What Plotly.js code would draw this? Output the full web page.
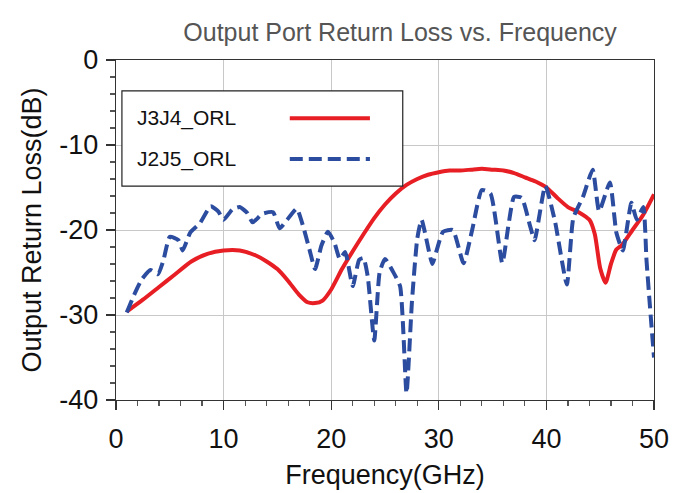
<!DOCTYPE html>
<html>
<head>
<meta charset="utf-8">
<script src="https://cdn.plot.ly/plotly-3.0.1.min.js"></script>
<style>html,body{margin:0;padding:0;background:#fff;}#chart{width:684px;height:493px;}</style>
</head>
<body>
<div id="chart"></div>
<script>
// Data
const seriesNames = ["J3J4_ORL", "J2J5_ORL"];

const freqJ3J4 = [1, 2.5, 4, 5.5, 7, 8.5, 10, 11.5, 13, 14, 15, 16, 17, 17.8, 18.5, 19.2, 20, 21, 22, 23, 24, 25, 26, 27, 28, 29, 30, 31, 32, 33, 34, 35, 36, 37, 38, 39, 40, 41, 42, 43, 44, 44.5, 45, 45.5, 46, 46.5, 47, 48, 49, 50];
const rlJ3J4 = [-29.6, -28.2, -26.7, -25.2, -23.7, -22.8, -22.4, -22.4, -23.0, -23.7, -24.6, -26.0, -27.6, -28.5, -28.6, -28.3, -27.0, -24.6, -22.5, -20.5, -18.6, -17.0, -15.7, -14.7, -14.0, -13.5, -13.2, -13.0, -13.0, -12.9, -12.8, -12.9, -13.0, -13.3, -13.8, -14.3, -15.0, -16.2, -17.3, -17.9, -18.8, -20.5, -24.5, -26.2, -24.0, -22.3, -21.8, -20.0, -18.2, -15.8];

const freqJ2J5 = [1.0, 1.8, 2.4, 3.2, 3.9, 4.4, 5.0, 5.8, 6.2, 6.9, 7.8, 8.8, 9.5, 10.0, 10.8, 11.5, 12.2, 12.7, 13.6, 14.6, 15.2, 15.9, 16.8, 17.4, 18.0, 18.5, 19.1, 19.7, 20.3, 20.8, 21.3, 22.0, 22.6, 23.0, 23.4, 24.0, 24.5, 25.0, 25.7, 26.4, 27.0, 27.5, 28.0, 28.4, 29.4, 29.8, 30.4, 31.3, 32.3, 33.1, 34.0, 34.8, 35.9, 36.5, 37.0, 37.7, 38.5, 38.9, 39.9, 40.8, 41.9, 42.5, 43.4, 44.3, 44.9, 45.9, 46.5, 47.1, 47.9, 48.4, 49.0, 49.3, 49.6, 50.0];
const rlJ2J5 = [-29.7, -27.3, -25.8, -24.7, -25.2, -23.6, -20.8, -21.2, -22.4, -20.3, -19.2, -17.2, -17.8, -18.8, -17.6, -17.3, -18.0, -19.1, -18.1, -17.9, -19.8, -18.8, -17.5, -19.6, -22.4, -24.6, -21.8, -20.2, -21.5, -23.4, -22.6, -26.6, -23.5, -23.3, -25.5, -33.0, -25.0, -23.4, -24.8, -26.6, -39.2, -28.5, -21.0, -18.8, -24.0, -22.4, -20.2, -20.0, -23.9, -20.0, -15.3, -15.7, -23.9, -19.2, -16.1, -16.2, -19.6, -21.2, -14.8, -19.0, -26.4, -18.6, -16.1, -12.9, -17.8, -14.4, -20.3, -22.4, -16.8, -18.8, -17.3, -23.5, -28.6, -35.0];

const xTicks = [0, 10, 20, 30, 40, 50];
const yTicks = [0, -10, -20, -30, -40];

const redColor = "#e81e25";
const blueColor = "#2b4c9f";
const fontFam = "Liberation Sans, Arial, sans-serif";

const traces = [
  {x: freqJ3J4, y: rlJ3J4, type: "scatter", mode: "lines", name: seriesNames[0],
   line: {color: redColor, width: 4, shape: "spline", smoothing: 0.6}},
  {x: freqJ2J5, y: rlJ2J5, type: "scatter", mode: "lines", name: seriesNames[1],
   line: {color: blueColor, width: 4, dash: "13px,6px", shape: "spline", smoothing: 0.5}}
];

// legend box in paper coordinates
const legX0 = 0.011, legX1 = 0.533, legY0 = 0.629, legY1 = 0.909;
const rowY = [0.829, 0.709];
const sampleX0 = 0.323, sampleX1 = 0.472;

const shapes = [
  {type: "rect", xref: "paper", yref: "paper", x0: legX0, x1: legX1, y0: legY0, y1: legY1,
   line: {color: "#222", width: 1.2}, fillcolor: "#fff", layer: "above"},
  {type: "line", xref: "paper", yref: "paper", x0: sampleX0, x1: sampleX1, y0: rowY[0], y1: rowY[0],
   line: {color: redColor, width: 4}, layer: "above"},
  {type: "line", xref: "paper", yref: "paper", x0: sampleX0, x1: sampleX1, y0: rowY[1], y1: rowY[1],
   line: {color: blueColor, width: 4, dash: "13px,6px"}, layer: "above"}
];

const annotations = seriesNames.map((n, i) => ({
  text: n, xref: "paper", yref: "paper", x: 0.035, y: rowY[i], xanchor: "left", yanchor: "middle",
  showarrow: false, font: {family: fontFam, size: 21, color: "#111"}
}));

const layout = {
  width: 684, height: 493,
  margin: {l: 116, r: 30, t: 60, b: 93},
  paper_bgcolor: "#fff", plot_bgcolor: "#fff",
  showlegend: false,
  font: {family: fontFam, color: "#111"},
  title: {text: "Output Port Return Loss vs. Frequency", font: {family: fontFam, size: 25, color: "#555"},
          xref: "paper", x: 0.528, xanchor: "center", y: 0.935, yanchor: "middle"},
  xaxis: {
    range: [0, 50], tickvals: xTicks, ticktext: xTicks.map(String),
    showline: true, linecolor: "#333", linewidth: 1.2, mirror: true,
    ticks: "outside", ticklen: 9, tickcolor: "#333", tickwidth: 1.2,
    ticklabelstandoff: 5,
    showgrid: true, gridcolor: "#c8c8c8", gridwidth: 1, zeroline: false,
    minor: {dtick: 2, ticks: "outside", ticklen: 5, tickcolor: "#555", showgrid: false},
    tickfont: {family: fontFam, size: 27, color: "#111"},
    title: {text: "Frequency(GHz)", font: {family: fontFam, size: 27, color: "#111"}, standoff: 12},
    automargin: false, fixedrange: true
  },
  yaxis: {
    range: [-40, 0], tickvals: yTicks, ticktext: yTicks.map(String),
    showline: true, linecolor: "#333", linewidth: 1.2, mirror: true,
    ticks: "outside", ticklen: 9, tickcolor: "#333", tickwidth: 1.2,
    ticklabelstandoff: 2,
    showgrid: true, gridcolor: "#c8c8c8", gridwidth: 1, zeroline: false,
    minor: {dtick: 2, ticks: "outside", ticklen: 5, tickcolor: "#555", showgrid: false},
    tickfont: {family: fontFam, size: 27, color: "#111"},
    title: {text: "Output Return Loss(dB)", font: {family: fontFam, size: 27, color: "#111"}, standoff: 10},
    automargin: false, fixedrange: true
  },
  shapes: shapes,
  annotations: annotations
};

Plotly.newPlot("chart", traces, layout, {staticPlot: true, displayModeBar: false});
</script>
</body>
</html>
